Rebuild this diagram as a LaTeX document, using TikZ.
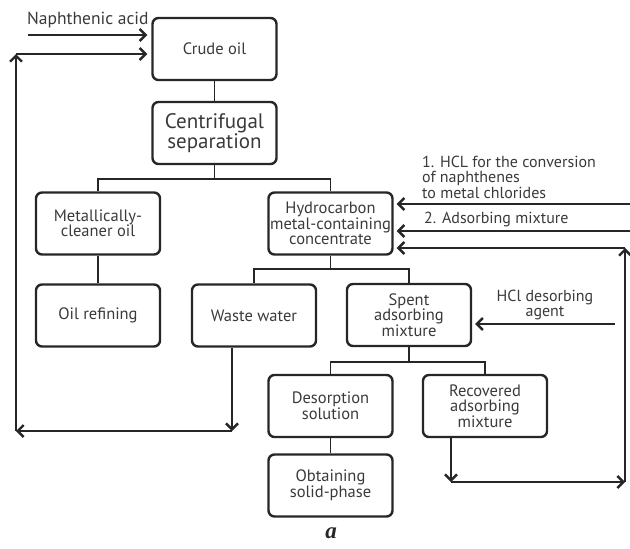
\documentclass[tikz,border=0pt]{standalone}
\usepackage{fontspec}
\newfontfamily\myr{PT Sans}
\newfontfamily\capfont{Liberation Serif}
\usetikzlibrary{arrows.meta,calc}
\definecolor{ink}{HTML}{262626}
\definecolor{txt}{HTML}{3A3A3A}
\begin{document}
\begin{tikzpicture}[x=1pt,y=-1pt,
  box/.style={draw=ink,line width=2.4pt,rounded corners=6pt,minimum width=124pt,minimum height=62pt,
    align=center,inner sep=1pt,text=txt,font=\myr\fontsize{16.5}{15.5}\selectfont},
  link/.style={draw=ink,line width=1.2pt},
  flow/.style={draw=ink,line width=2.4pt,-{Straight Barb[length=6pt,width=12pt]}},
  lbl/.style={text=txt,font=\myr\fontsize{16}{15.6}\selectfont,inner sep=0pt}]
\useasboundingbox (0,0) rectangle (630,549);
% boxes
\node[box] (crude) at (214.5,49) {Crude oil};
\node[box,font=\myr\fontsize{21}{19}\selectfont] (centr) at (214.5,133) {Centrifugal\\separation};
\node[box] (metal) at (98,223.5) {Metallically-\\cleaner oil};
\node[box] (hydro) at (330.5,223.5) {Hydrocarbon\\metal-containing\\concentrate};
\node[box] (oilref) at (98,315.5) {Oil refining};
\node[box] (waste) at (254,315.5) {Waste water};
\node[box] (spent) at (409,315) {Spent\\adsorbing\\mixture};
\node[box] (desorp) at (330.5,406) {Desorption\\solution};
\node[box] (obtain) at (330.5,485.5) {Obtaining\\solid-phase};
\node[box] (recov) at (485,406) {Recovered\\adsorbing\\mixture};
% tree connectors
\draw[link] (crude.south) -- (centr.north);
\coordinate (b1) at (214.5,179);
\draw[link] (centr.south) -- (b1);
\draw[link] (b1) -| (metal.north);
\draw[link] (b1) -| (hydro.north);
\draw[link] (metal.south) -- (oilref.north);
\coordinate (b2) at (330.5,269);
\draw[link] (hydro.south) -- (b2);
\draw[link] (b2) -| (waste.north);
\draw[link] (b2) -| (spent.north);
\coordinate (b3) at (409,362);
\draw[link] (spent.south) -- (b3);
\draw[link] (b3) -| (desorp.north);
\draw[link] (b3) -| (recov.north);
\draw[link] (desorp.south) -- (obtain.north);
% inputs on the left
\coordinate (na) at (28,35);
\draw[flow,shorten >=4pt] (na) -- (na -| crude.west);
\node[lbl,anchor=west,font=\myr\fontsize{17.5}{17.5}\selectfont] (natxt) at (27,20) {Naphthenic acid};
% waste water loop
\coordinate (w1) at (232,431);
\coordinate (w2) at (16,431);
\coordinate (w3) at (16,54);
\draw[flow] (waste.south -| w1) -- (w1);
\draw[flow] (w1) -- (w2);
\draw[flow] (w2) -- (w3);
\draw[flow,shorten >=4pt] (w3) -- (w3 -| crude.west);
% inputs on the right
\coordinate (r1) at (630,204);
\coordinate (r2) at (630,231);
\coordinate (r3) at (625,248);
\draw[flow,shorten >=3pt] (r1) -- (r1 -| hydro.east);
\draw[flow,shorten >=3pt] (r2) -- (r2 -| hydro.east);
\draw[flow,shorten >=3pt] (r3) -- (r3 -| hydro.east);
\node[lbl,anchor=west,align=left] (hcl1) at (422,177) {1. HCL for the conversion\\of naphthenes\\to metal chlorides};
\node[lbl,anchor=west] (ads) at (424,219) {2. Adsorbing mixture};
% recovered loop
\coordinate (v1) at (451,482);
\coordinate (v2) at (625,482);
\draw[flow] (recov.south -| v1) -- (v1);
\draw[flow] (v1) -- (v2);
\draw[flow] (v2) -- (r3);
% HCl desorbing agent
\coordinate (h1) at (615,324);
\draw[flow,shorten >=3pt] (h1) -- (h1 -| spent.east);
\node[lbl,align=center] (hcltxt) at (545,305) {HCl desorbing\\agent};
% caption
\node[font=\capfont\fontsize{23}{23}\selectfont\bfseries\itshape,text=ink] (cap) at (331,533) {a};
\end{tikzpicture}
\end{document}
